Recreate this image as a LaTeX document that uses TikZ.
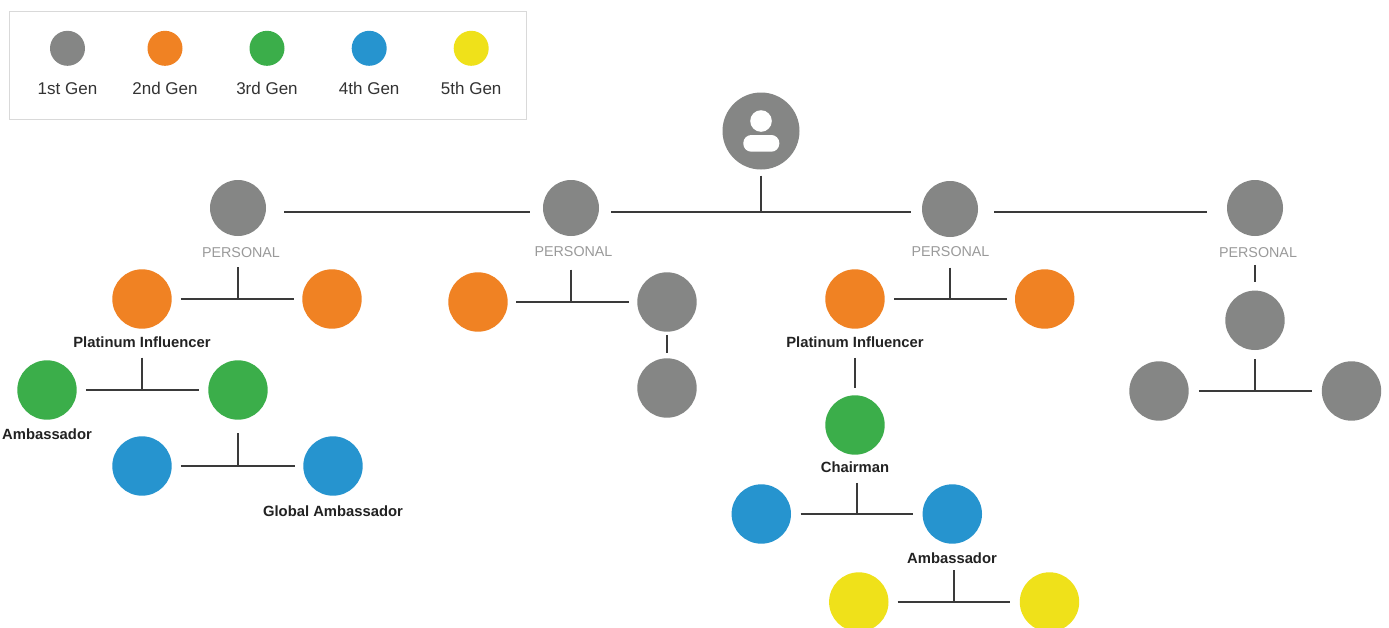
\documentclass[tikz,border=0pt]{standalone}
\usepackage{fontspec}
\setmainfont{Liberation Sans}
\usetikzlibrary{calc}
\definecolor{cgray}{HTML}{858685}
\definecolor{corange}{HTML}{F08223}
\definecolor{cgreen}{HTML}{3BAE4A}
\definecolor{cblue}{HTML}{2694CF}
\definecolor{cyellow}{HTML}{EFE11A}
\definecolor{clink}{HTML}{3A3A3A}
\definecolor{cpers}{HTML}{9A9A9A}
\definecolor{clab}{HTML}{222222}
\definecolor{cbox}{HTML}{D9D9D9}
\definecolor{cleg}{HTML}{333333}
\begin{document}
\begin{tikzpicture}[x=1pt,y=-1pt,
  dot/.style={circle,inner sep=0pt,minimum size=59.4pt,draw=none},
  topdot/.style={circle,inner sep=0pt,minimum size=56pt,draw=none,fill=cgray},
  legdot/.style={circle,inner sep=0pt,minimum size=35pt,draw=none},
  link/.style={draw=clink,line width=1.3pt},
  lab/.style={font=\fontsize{14.8}{16}\selectfont\bfseries,text=clab,inner sep=0pt,text height=10.6pt,text depth=0pt},
  pers/.style={font=\fontsize{14.3}{16}\selectfont,text=cpers,inner sep=0pt,text height=10.2pt,text depth=0pt},
  leglab/.style={font=\fontsize{17}{19}\selectfont,text=cleg,inner sep=0pt,text height=12.2pt,text depth=0pt}
]
\clip (0,0) rectangle (1389,627);
\fill[white] (0,0) rectangle (1389,627);

% legend
\node[draw=cbox,line width=1.3pt,minimum width=517pt,minimum height=108.3pt,inner sep=0pt,anchor=north west] (legend) at (9,10.7) {};
\node[legdot,fill=cgray] (l1) at (67.5,48.3) {};
\node[legdot,fill=corange] (l2) at (165,48.3) {};
\node[legdot,fill=cgreen] (l3) at (267,48.3) {};
\node[legdot,fill=cblue] (l4) at (369.2,48.3) {};
\node[legdot,fill=cyellow] (l5) at (471.2,48.3) {};
\node[leglab] (t1) at (67.5,88.3) {1st Gen};
\node[leglab] (t2) at (165,88.3) {2nd Gen};
\node[leglab] (t3) at (267,88.3) {3rd Gen};
\node[leglab] (t4) at (369.2,88.3) {4th Gen};
\node[leglab] (t5) at (471.2,88.3) {5th Gen};

% root
\node[circle,inner sep=0pt,minimum size=77pt,fill=cgray] (root) at (761,131) {};
\fill[white] (761,121) circle[radius=10.8];
\fill[white,rounded corners=8pt] (743.3,135) rectangle (779.3,151.7);
\coordinate (bar) at (761,212);

% first generation
\node[topdot] (g1) at (238,208) {};
\node[topdot] (g2) at (571,208) {};
\node[topdot] (g3) at (950,209) {};
\node[topdot] (g4) at (1255,208) {};
\node[pers] (p1) at (241,252) {PERSONAL};
\node[pers] (p2) at (573.5,251.5) {PERSONAL};
\node[pers] (p3) at (950.5,251) {PERSONAL};
\node[pers] (p4) at (1258,252.5) {PERSONAL};

\draw[link] ($(root.south)+(0,6)$) -- (root.south |- bar);
\draw[link] ($(g1.east |- bar)+(18,0)$) -- ($(g2.west |- bar)+(-13,0)$);
\draw[link] ($(g2.east |- bar)+(12,0)$) -- ($(g3.west |- bar)+(-11,0)$);
\draw[link] ($(g3.east |- bar)+(16,0)$) -- ($(g4.west |- bar)+(-20,0)$);

% subtree 1
\node[dot,fill=corange] (o1) at (142,299) {};
\node[dot,fill=corange] (o2) at (332,299) {};
\node[lab] (pi1) at (142,342) {Platinum Influencer};
\node[dot,fill=cgreen] (gr1) at (47,390) {};
\node[dot,fill=cgreen] (gr2) at (238,390) {};
\node[lab] (am1) at (47,434.5) {Ambassador};
\node[dot,fill=cblue] (b1) at (142,466) {};
\node[dot,fill=cblue] (b2) at (333,466) {};
\node[lab] (ga) at (333,510.7) {Global Ambassador};

\draw[link] ($(o1.east)+(9,0)$) -- ($(o2.west)+(-8,0)$);
\draw[link] ($(g1 |- p1.south)+(0,10)$) -- (g1 |- o1.center);
\draw[link] ($(gr1.east)+(9,0)$) -- ($(gr2.west)+(-9,0)$);
\draw[link] ($(o1 |- pi1.south)+(0,10)$) -- (o1 |- gr1.center);
\draw[link] ($(b1.east)+(9,0)$) -- ($(b2.west)+(-8.5,0)$);
\draw[link] ($(gr2.south)+(0,13.5)$) -- (gr2 |- b1.center);

% subtree 2
\node[dot,fill=corange] (o3) at (478,302) {};
\node[dot,fill=cgray] (gg1) at (667,302) {};
\node[dot,fill=cgray] (gg2) at (667,388) {};
\draw[link] ($(o3.east)+(8.3,0)$) -- ($(gg1.west)+(-8,0)$);
\draw[link] ($(g2 |- p2.south)+(0,12.7)$) -- (g2 |- o3.center);
\draw[link] ($(gg1.south)+(0,3)$) -- ($(gg2.north)+(0,-5)$);

% subtree 3
\node[dot,fill=corange] (o4) at (855,299) {};
\node[dot,fill=corange] (o5) at (1044.7,299) {};
\node[lab] (pi2) at (855,342.3) {Platinum Influencer};
\node[dot,fill=cgreen] (gr3) at (855,425) {};
\node[lab] (ch) at (855,467) {Chairman};
\node[dot,fill=cblue] (b3) at (761.3,514) {};
\node[dot,fill=cblue] (b4) at (952.3,514) {};
\node[lab] (am2) at (952,558.5) {Ambassador};
\node[dot,fill=cyellow] (y1) at (858.8,602) {};
\node[dot,fill=cyellow] (y2) at (1049.5,602) {};

\draw[link] ($(o4.east)+(9.3,0)$) -- ($(o5.west)+(-8,0)$);
\draw[link] ($(g3 |- p3.south)+(0,11.2)$) -- (g3 |- o4.center);
\draw[link] ($(pi2.south)+(0,10)$) -- ($(gr3.north)+(0,-7)$);
\draw[link] ($(b3.east)+(9.3,0)$) -- ($(b4.west)+(-9,0)$);
\draw[link] ($(ch.south)+(2,10.4)$) -- ($(ch.south |- b3.center)+(2,0)$);
\draw[link] ($(y1.east)+(9,0)$) -- ($(y2.west)+(-9.7,0)$);
\draw[link] ($(am2.south)+(2,6.2)$) -- ($(am2.south |- y1.center)+(2,0)$);

% subtree 4
\node[dot,fill=cgray] (gg3) at (1255,320.3) {};
\node[dot,fill=cgray] (gg4) at (1159,391) {};
\node[dot,fill=cgray] (gg5) at (1351.5,391) {};
\draw[link] ($(gg3 |- p4.south)+(0,7)$) -- ($(gg3.north)+(0,-8.4)$);
\draw[link] ($(gg3.south)+(0,9)$) -- (gg3 |- gg4.center);
\draw[link] ($(gg4.east)+(10,0)$) -- ($(gg5.west)+(-9.7,0)$);
\end{tikzpicture}
\end{document}
